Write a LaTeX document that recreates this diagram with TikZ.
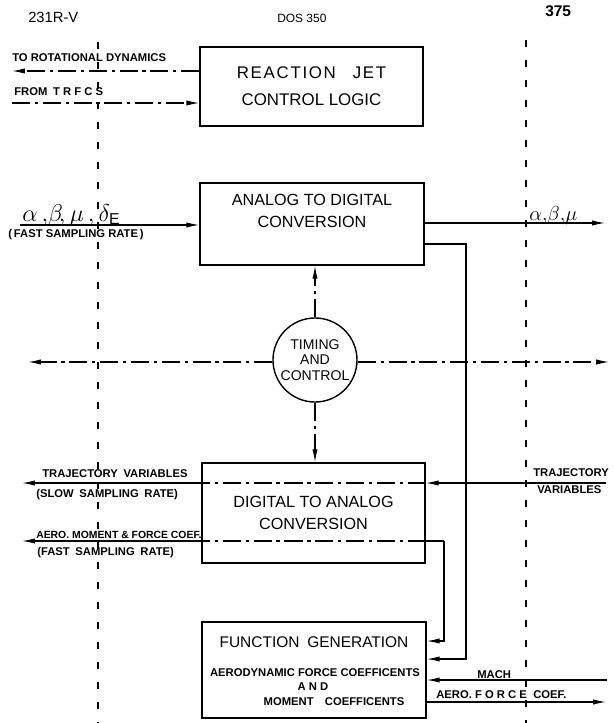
\documentclass[tikz,border=0pt]{standalone}
\usepackage{fontspec}
\setmainfont{Liberation Sans}
\newfontfamily\spacedfont[LetterSpace=10]{Liberation Sans}
\usetikzlibrary{arrows.meta}

\begin{document}
\begin{tikzpicture}[x=0.025cm,y=-0.025cm,font=\small,
  blk/.style={draw,line width=1pt,inner sep=0pt,align=center,font=\fontsize{11.5}{16}\selectfont},
  sig/.style={line width=.8pt},
  ctl/.style={line width=.8pt,dash pattern=on 4.5mm off 1.2mm on .8mm off 1.2mm},
  bnd/.style={line width=1.5pt,dash pattern=on 1.8mm off 3.2mm},
  tip/.style={-{Latex[length=3.2mm,width=1.3mm]}},
  lbl/.style={font=\fontsize{8}{9}\selectfont\bfseries,inner sep=0pt,anchor=base west},
  hdr/.style={inner sep=0pt,anchor=base west}]
\useasboundingbox (0,0) rectangle (613,723);

% page header
\node[hdr,font=\fontsize{10.5}{12}\selectfont] (hleft) at (28,23) {231R-V};
\node[hdr,font=\fontsize{8.5}{10}\selectfont] (hmid) at (277,22) {DOS 350};
\node[hdr,font=\fontsize{11}{12}\selectfont\bfseries] (hright) at (545,17) {375};

% boundaries
\draw[bnd] (98,42) -- (98,723);
\draw[bnd] (526,40) -- (526,723);

% blocks
\node[blk,minimum width=5.575cm,minimum height=1.975cm,font=\fontsize{12}{19}\selectfont] (rjc) at (311.5,86.5)
  {{\spacedfont REACTION\quad JET}\\CONTROL LOGIC};
\node[blk,minimum width=5.6cm,minimum height=2.05cm] (adc) at (312,224)
  {ANALOG TO DIGITAL\\CONVERSION\\[1mm]};
\node[draw,circle,line width=1pt,minimum size=2.1cm,inner sep=0pt,align=center,
  font=\fontsize{10}{11}\selectfont] (tc) at (315,360) {TIMING\\AND\\CONTROL};
\node[blk,minimum width=5.575cm,minimum height=2.5cm] (dac) at (313.5,513)
  {DIGITAL TO ANALOG\\CONVERSION};
\node[blk,minimum width=5.6cm,minimum height=2.4cm] (fgen) at (314,670) {};
\node[inner sep=0pt,anchor=base,font=\fontsize{11}{12}\selectfont] (fgtitle) at (314,647) {FUNCTION\enspace GENERATION};
\node[lbl,anchor=base] (fgforce) at (315,676) {AERODYNAMIC FORCE COEFFICENTS};
\node[lbl,anchor=base] (fgand) at (313,690) {A N D};
\node[lbl,anchor=base] (fgmom) at (334,705) {MOMENT\quad COEFFICENTS};

% reaction jet signals
\coordinate (rotout) at (12,71);
\coordinate (trfcs) at (12,103);
\draw[ctl,tip] (rotout -| rjc.west) -- (rotout);
\draw[ctl,tip] (trfcs) -- (trfcs -| rjc.west);
\node[lbl] (lrot) at (12,61) {TO ROTATIONAL DYNAMICS};
\node[lbl] (ltrfcs) at (14,95) {FROM\enspace T R F C S};

% analog to digital
\coordinate (adcin) at (20,225);
\coordinate (adcout) at (605,223);
\draw[sig,tip] (adcin) -- (adcin -| adc.west);
\draw[sig,tip] (adcout -| adc.east) -- (adcout);
\node[inner sep=0pt,anchor=base west,font=\fontsize{16}{18}\selectfont] (lfast) at (22,221)
  {$\alpha\,,\!\beta\!,\mu\,,\delta_{\mathrm{E}}$};
\node[lbl] (lrate) at (8,237) {(\,FAST SAMPLING RATE\,)};
\node[inner sep=0pt,anchor=base west,font=\fontsize{14}{16}\selectfont] (labm) at (529,220)
  {$\alpha{,}\beta{,}\mu$};
\coordinate (bendA) at (466,244);
\coordinate (bendB) at (466,659);
\draw[sig,tip] (adc.east |- bendA) -- (bendA) -- (bendB) -- (fgen.east |- bendB);

% timing and control
\coordinate (tcl) at (28,362);
\coordinate (tcr) at (609,362);
\draw[ctl,tip] (tc.west |- tcl) -- (tcl);
\draw[ctl,tip] (tc.east |- tcr) -- (tcr);
\draw[ctl,tip] (tc.north) -- (tc.north |- adc.south);
\draw[ctl,tip] (tc.south) -- (tc.south |- dac.north);

% digital to analog
\coordinate (trajin) at (606,483);
\coordinate (trajout) at (22,483);
\draw[sig,tip] (trajin) -- (trajin -| dac.east);
\draw[ctl] (trajin -| dac.east) -- (trajin -| dac.west);
\draw[sig,tip] (trajout -| dac.west) -- (trajout);
\node[lbl] (ltraj) at (42,477) {TRAJECTORY\enspace VARIABLES};
\node[lbl] (lslow) at (36,497) {(SLOW\enspace SAMPLING\enspace RATE)};
\node[lbl] (ltrajr) at (533,476) {TRAJECTORY};
\node[lbl] (lvarr) at (537,493) {VARIABLES};
\coordinate (bendC) at (444,541);
\coordinate (bendD) at (444,641);
\coordinate (aeroout) at (22,541);
\draw[sig] (bendC) -- (bendC -| dac.east);
\draw[ctl] (bendC -| dac.east) -- (bendC -| dac.west);
\draw[sig,tip] (bendC -| dac.west) -- (aeroout);
\draw[sig,tip] (bendC) -- (bendD) -- (fgen.east |- bendD);
\node[lbl,font=\fontsize{7.4}{8}\selectfont\bfseries] (laero) at (36,538) {AERO. MOMENT \& FORCE COEF.};
\node[lbl] (lfast2) at (37,555) {(FAST\enspace SAMPLING\enspace RATE)};

% function generation inputs and outputs
\coordinate (machin) at (607,680);
\coordinate (forceout) at (606,702);
\draw[sig,tip] (machin) -- (machin -| fgen.east);
\draw[sig,tip] (forceout -| fgen.east) -- (forceout);
\node[lbl] (lmach) at (477,678) {MACH};
\node[lbl] (lforce) at (436,698) {AERO. F O R C E};
\node[lbl] (lcoef) at (533,698) {COEF.};
\end{tikzpicture}
\end{document}
